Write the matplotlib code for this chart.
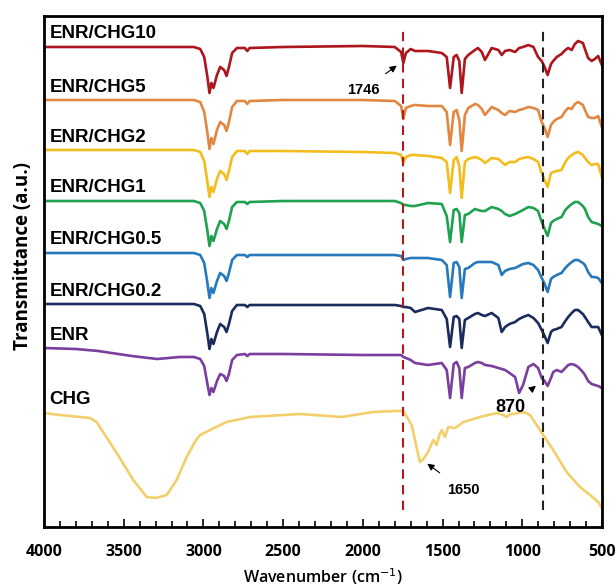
import numpy as np
import matplotlib
matplotlib.use("Agg")
import matplotlib.pyplot as plt
from matplotlib.ticker import MultipleLocator

# anchor wavenumbers shared by the ENR based spectra (cm-1)
wn_enr = [4000, 3800, 3660, 3450, 3290, 3150, 3060, 3020, 2995, 2975, 2962, 2950,
          2937, 2915, 2895, 2870, 2855, 2840, 2820, 2790, 2740, 2725, 2710, 2500,
          2000, 1800, 1760, 1746, 1730, 1700, 1673, 1591, 1505, 1474, 1453, 1430,
          1412, 1395, 1380, 1360, 1339, 1297, 1278, 1254, 1234, 1192, 1150, 1129,
          1108, 1080, 1045, 1020, 995, 962, 930, 901, 878, 860, 841, 820, 806, 784,
          754, 730, 712, 690, 670, 650, 620, 607, 587, 565, 545, 524, 501]

# values relative to each trace's baseline (a.u.)
chg10 = [0, 0, 0, 0, 0, 0, 0, -2, -10, -30, -46, -36,
         -41, -28, -20, -23, -29, -20, -6, -1, -1, -4, -1, 0,
         1, 0, -5, -16, -6, -2, -4, -4, -6, -10, -41, -10,
         -8, -14, -46, -12, -8, -3, -1, -5, -13, -1, -3, -8,
         -4, -3, -5, -1, 0, 2, 0, -10, -14, -20, -28, -17, -14, -10,
         -7, -3, -1, -3, 3, 6, 4, -2, -11, -14, -12, -9, -18]
chg5 = [0, 0, 0, 0, 0, 0, 0, -2, -12, -33, -49, -38,
        -44, -30, -22, -25, -31, -22, -7, -1, -1, -4, -1, 0,
        0, -1, -6, -19, -8, -6, -5, -6, -6, -12, -45, -12,
        -10, -20, -51, -15, -8, -4, -5, -9, -15, -7, -10, -13,
        -15, -11, -12, -10, -9, -7, -8, -10, -22, -28, -37, -25, -22, -19,
        -17, -11, -8, -9, -4, -2, -5, -10, -17, -18, -18, -16, -27]
chg2 = [0, 0, 0, 0, 0, 0, 0, -2, -11, -32, -47, -37,
        -42, -29, -21, -24, -30, -21, -7, -1, -1, -4, -1, -1,
        -2, -3, -5, -13, -7, -5, -5, -6, -8, -12, -43, -10,
        -7, -16, -48, -12, -9, -7, -8, -10, -13, -8, -9, -12,
        -15, -12, -12, -9, -8, -7, -9, -12, -23, -30, -37, -23, -22, -21,
        -20, -12, -8, -5, -3, -2, -5, -8, -12, -15, -14, -14, -27]
chg1 = [0, 0, 0, 0, 0, 0, 0, -2, -10, -30, -45, -35,
        -40, -28, -20, -23, -28, -20, -6, -1, -1, -3, -1, 0,
        0, 0, -2, -4, -4, -5, -5, -2, -3, -15, -41, -9,
        -8, -12, -41, -14, -13, -8, -9, -10, -10, -6, -8, -10,
        -13, -15, -13, -11, -9, -6, -7, -10, -21, -28, -35, -22, -20, -18,
        -16, -9, -6, -3, -1, -1, -5, -8, -16, -21, -22, -23, -25]
chg05 = [0, 0, 0, 0, 0, 0, 0, -2, -10, -30, -45, -35,
         -40, -28, -20, -23, -28, -20, -7, -2, -2, -4, -2, -2,
         -2, -2, -3, -7, -6, -5, -5, -5, -7, -12, -44, -10,
         -9, -14, -45, -16, -15, -10, -9, -9, -9, -9, -12, -22,
         -18, -16, -15, -13, -11, -10, -12, -17, -25, -31, -39, -26, -24, -22,
         -20, -15, -12, -9, -7, -7, -10, -12, -19, -24, -24, -25, -30]
chg02 = [0, 0, 0, 0, 0, 0, 0, -2, -10, -30, -45, -35,
         -40, -28, -20, -23, -28, -20, -7, -1, -1, -3, -1, -1,
         -1, -1, -2, -3, -3, -4, -8, -4, -6, -15, -43, -13,
         -12, -15, -44, -16, -14, -10, -9, -11, -12, -9, -14, -28,
         -23, -20, -18, -15, -13, -11, -14, -19, -26, -32, -39, -28, -26, -25,
         -23, -17, -13, -9, -6, -6, -10, -13, -18, -23, -23, -23, -31]
enr = [0, -1, -3, -8, -11, -9, -9, -11, -18, -36, -47, -40,
       -44, -33, -26, -28, -33, -26, -12, -7, -6, -8, -6, -6,
       -7, -7, -7, -9, -10, -12, -15, -17, -15, -22, -50, -16,
       -14, -20, -50, -20, -19, -15, -14, -15, -17, -18, -20, -21,
       -22, -25, -29, -45, -37, -19, -16, -20, -30, -33, -38, -30, -24, -22,
       -24, -20, -17, -16, -17, -19, -24, -27, -33, -36, -37, -38, -40]

wn_chg = [4000, 3900, 3711, 3670, 3544, 3440, 3356, 3300, 3230, 3168, 3105, 3050,
          3021, 2959, 2854, 2708, 2394, 2306, 2132, 1936, 1800, 1746, 1694, 1642,
          1620, 1591, 1558, 1537, 1520, 1505, 1485, 1464, 1422, 1369, 1265, 1160,
          1120, 1098, 1075, 1056, 993, 951, 889, 806, 722, 638, 575, 524, 505]
chg = [0, -2, -5, -9, -40, -67, -84, -85, -82, -67, -44, -28,
       -22, -17, -9, -4, -1, -2, -4, 1, 2, 2, -12, -49,
       -46, -39, -27, -32, -22, -17, -24, -14, -15, -9, -4, 0,
       -2, -4, -1, -1, 1, -2, -17, -37, -59, -74, -82, -89, -94]

names = ["ENR/CHG10", "ENR/CHG5", "ENR/CHG2", "ENR/CHG1",
         "ENR/CHG0.5", "ENR/CHG0.2", "ENR", "CHG"]
series = [chg10, chg5, chg2, chg1, chg05, chg02, enr, chg]
offsets = [480, 427, 377, 326, 274, 223, 179, 114]
colors = ["#AC161C", "#E28742", "#F2BE1D", "#1FA24F",
          "#2779BD", "#1B2B5C", "#7A3E9F", "#F3CF6B"]

fig = plt.figure(figsize=(6.16, 5.87), dpi=100)
ax = fig.add_axes([44/616, 60/587, 558/616, 511/587])

for name, vals, off, col in zip(names, series, offsets, colors):
    wn = wn_chg if name == "CHG" else wn_enr
    y = np.array(vals) + off
    ax.plot(wn, y, color=col, lw=1.9, solid_joinstyle="round")
    ax.text(3965, off + 13, name, fontsize=13.5, fontweight="bold",
            family="Liberation Sans", va="center", ha="left")

# marker lines
ax.vlines(1746, 17, 500, colors="#B0191E", linestyles=(0, (4.5, 3)), lw=1.5)
ax.vlines(870, 17, 500, colors="#222222", linestyles=(0, (4.5, 3)), lw=1.5)

arw = dict(arrowstyle="-|>", color="black", lw=0.8, mutation_scale=10)
ax.annotate("1746", xy=(1773, 463), xytext=(1999, 437), fontsize=10.5,
            fontweight="bold", family="Liberation Sans", ha="center", va="center",
            arrowprops=dict(arw, shrinkA=8))
ax.annotate("1650", xy=(1610, 65), xytext=(1372, 37), fontsize=10.5,
            fontweight="bold", family="Liberation Sans", ha="center", va="center",
            arrowprops=dict(arw, shrinkA=9))
ax.annotate("870", xy=(901, 143), xytext=(1077, 120), fontsize=13,
            fontweight="bold", family="Liberation Sans", ha="center", va="center",
            arrowprops=dict(arw, shrinkA=9))

ax.set_xlim(4000, 500)
ax.set_ylim(0, 511)
ax.set_yticks([])
ax.xaxis.set_major_locator(MultipleLocator(500))
ax.xaxis.set_minor_locator(MultipleLocator(100))
ax.tick_params(axis="x", which="major", direction="in", length=6, width=1.2, pad=12)
ax.tick_params(axis="x", which="minor", direction="in", length=4, width=1.2)
for lab in ax.get_xticklabels():
    lab.set_family("Open Sans")
    lab.set_fontweight("bold")
    lab.set_fontsize(11.5)
for sp in ax.spines.values():
    sp.set_linewidth(2)

ax.set_xlabel("Wavenumber (cm$^{-1}$)", family="Open Sans", fontweight="semibold",
              fontsize=11.5, labelpad=5)
ax.set_ylabel("Transmittance (a.u.)", family="Open Sans",
              fontweight="bold", fontsize=13.5)
ax.yaxis.set_label_coords(-0.02, 0.53)

fig.savefig("out.png", dpi=100)
